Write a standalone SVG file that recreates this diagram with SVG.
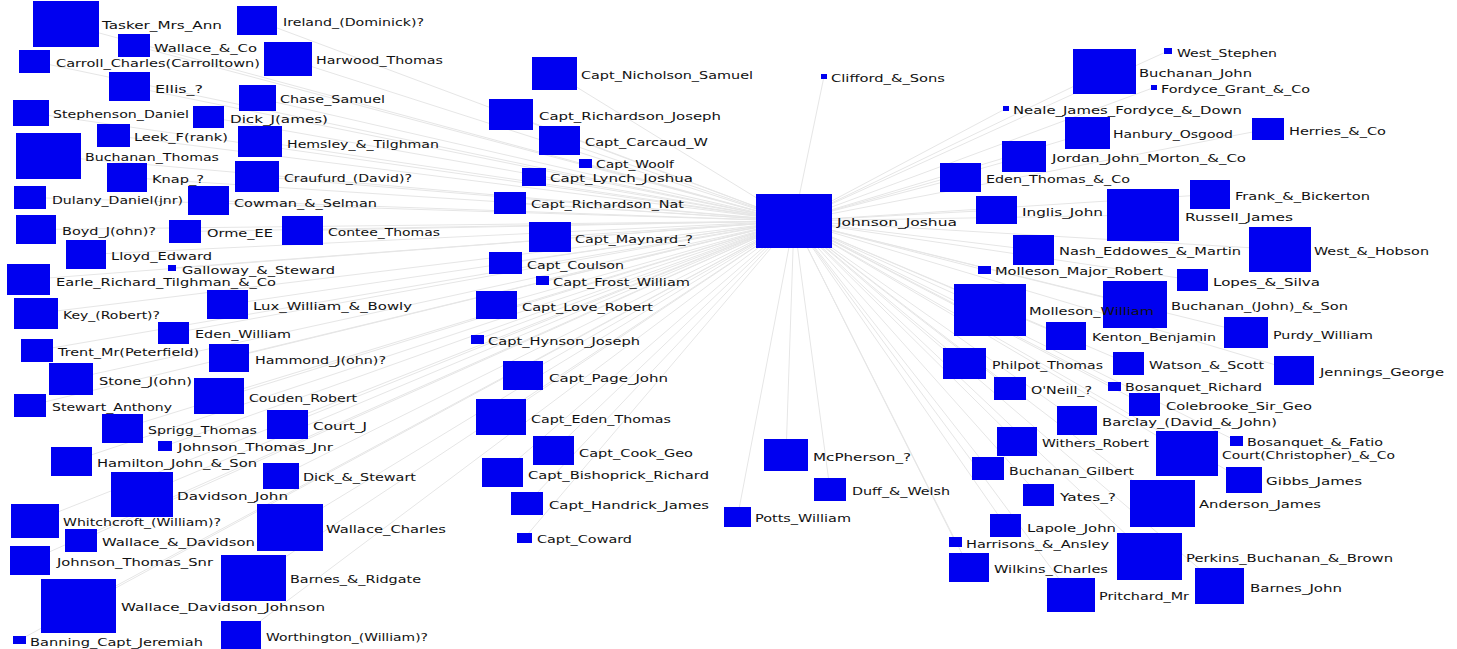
<svg xmlns="http://www.w3.org/2000/svg" width="1457" height="649" viewBox="0 0 1457 649">
<style>
.n rect{fill:#0000f0}
.n text{font-family:"DejaVu Sans","Liberation Sans",sans-serif;font-size:11px;fill:#111111}
#edges line{stroke:#e6e6e6;stroke-width:1}
</style>
<rect width="1457" height="649" fill="#ffffff"/>
<g id="edges">
<line x1="794" y1="221" x2="66" y2="24"/>
<line x1="794" y1="221" x2="257" y2="20.5"/>
<line x1="794" y1="221" x2="134" y2="45.5"/>
<line x1="794" y1="221" x2="34.5" y2="61.5"/>
<line x1="794" y1="221" x2="288" y2="59"/>
<line x1="794" y1="221" x2="129.5" y2="86.5"/>
<line x1="794" y1="221" x2="257.5" y2="98"/>
<line x1="794" y1="221" x2="31" y2="113"/>
<line x1="794" y1="221" x2="208.5" y2="117"/>
<line x1="794" y1="221" x2="113.5" y2="135.5"/>
<line x1="794" y1="221" x2="260" y2="141.5"/>
<line x1="794" y1="221" x2="48.5" y2="156"/>
<line x1="794" y1="221" x2="127" y2="177.5"/>
<line x1="794" y1="221" x2="257" y2="176.5"/>
<line x1="794" y1="221" x2="30" y2="197.5"/>
<line x1="794" y1="221" x2="208.5" y2="200.5"/>
<line x1="794" y1="221" x2="36" y2="229.5"/>
<line x1="794" y1="221" x2="185" y2="231.5"/>
<line x1="794" y1="221" x2="302.5" y2="230.5"/>
<line x1="794" y1="221" x2="86" y2="254.5"/>
<line x1="794" y1="221" x2="172" y2="268"/>
<line x1="794" y1="221" x2="28.5" y2="279.5"/>
<line x1="794" y1="221" x2="227.5" y2="304.5"/>
<line x1="794" y1="221" x2="36" y2="313.5"/>
<line x1="794" y1="221" x2="173.5" y2="333"/>
<line x1="794" y1="221" x2="37" y2="350.5"/>
<line x1="794" y1="221" x2="229" y2="358"/>
<line x1="794" y1="221" x2="71" y2="379"/>
<line x1="794" y1="221" x2="219" y2="396"/>
<line x1="794" y1="221" x2="30" y2="405.5"/>
<line x1="794" y1="221" x2="122.5" y2="428.5"/>
<line x1="794" y1="221" x2="287.5" y2="424.5"/>
<line x1="794" y1="221" x2="165" y2="446"/>
<line x1="794" y1="221" x2="71.5" y2="461.5"/>
<line x1="794" y1="221" x2="281" y2="476"/>
<line x1="794" y1="221" x2="142" y2="494.5"/>
<line x1="794" y1="221" x2="35" y2="521"/>
<line x1="794" y1="221" x2="290" y2="527.5"/>
<line x1="794" y1="221" x2="81" y2="540.5"/>
<line x1="794" y1="221" x2="30" y2="560.5"/>
<line x1="794" y1="221" x2="253.5" y2="578"/>
<line x1="794" y1="221" x2="78.5" y2="606"/>
<line x1="794" y1="221" x2="19.5" y2="640"/>
<line x1="794" y1="221" x2="241" y2="635.5"/>
<line x1="794" y1="221" x2="554.5" y2="73.5"/>
<line x1="794" y1="221" x2="824" y2="76.5"/>
<line x1="794" y1="221" x2="511" y2="114.5"/>
<line x1="794" y1="221" x2="559.5" y2="140.5"/>
<line x1="794" y1="221" x2="585.5" y2="163.5"/>
<line x1="794" y1="221" x2="534" y2="177"/>
<line x1="794" y1="221" x2="510" y2="203"/>
<line x1="794" y1="221" x2="550" y2="237"/>
<line x1="794" y1="221" x2="505.5" y2="263"/>
<line x1="794" y1="221" x2="542.5" y2="280.5"/>
<line x1="794" y1="221" x2="496.5" y2="305"/>
<line x1="794" y1="221" x2="477.5" y2="339.5"/>
<line x1="794" y1="221" x2="523" y2="375.5"/>
<line x1="794" y1="221" x2="501" y2="417"/>
<line x1="794" y1="221" x2="553.5" y2="450.5"/>
<line x1="794" y1="221" x2="502.5" y2="472.5"/>
<line x1="794" y1="221" x2="527" y2="503.5"/>
<line x1="794" y1="221" x2="524.5" y2="538"/>
<line x1="794" y1="221" x2="786" y2="455"/>
<line x1="794" y1="221" x2="830" y2="489.5"/>
<line x1="794" y1="221" x2="737.5" y2="517"/>
<line x1="794" y1="221" x2="1168" y2="51"/>
<line x1="794" y1="221" x2="1104.5" y2="71.5"/>
<line x1="794" y1="221" x2="1154" y2="87.5"/>
<line x1="794" y1="221" x2="1006" y2="108.5"/>
<line x1="794" y1="221" x2="1087.5" y2="133"/>
<line x1="794" y1="221" x2="1268" y2="129"/>
<line x1="794" y1="221" x2="1024" y2="156.5"/>
<line x1="794" y1="221" x2="960.5" y2="177.5"/>
<line x1="794" y1="221" x2="1210" y2="194.5"/>
<line x1="794" y1="221" x2="996.5" y2="210"/>
<line x1="794" y1="221" x2="1143" y2="215"/>
<line x1="794" y1="221" x2="1033.5" y2="250"/>
<line x1="794" y1="221" x2="1280" y2="249.5"/>
<line x1="794" y1="221" x2="984.5" y2="270"/>
<line x1="794" y1="221" x2="1192.5" y2="280"/>
<line x1="794" y1="221" x2="1135" y2="304.5"/>
<line x1="794" y1="221" x2="990" y2="310"/>
<line x1="794" y1="221" x2="1246" y2="332.5"/>
<line x1="794" y1="221" x2="1066" y2="336"/>
<line x1="794" y1="221" x2="964.5" y2="363.5"/>
<line x1="794" y1="221" x2="1128.5" y2="363.5"/>
<line x1="794" y1="221" x2="1294" y2="370.5"/>
<line x1="794" y1="221" x2="1010" y2="388.5"/>
<line x1="794" y1="221" x2="1114.5" y2="386.5"/>
<line x1="794" y1="221" x2="1144.5" y2="404.5"/>
<line x1="794" y1="221" x2="1077" y2="420.5"/>
<line x1="794" y1="221" x2="1017" y2="441.5"/>
<line x1="794" y1="221" x2="1187" y2="453.5"/>
<line x1="794" y1="221" x2="1236.5" y2="441"/>
<line x1="794" y1="221" x2="988" y2="468.5"/>
<line x1="794" y1="221" x2="1244" y2="480"/>
<line x1="794" y1="221" x2="1038.5" y2="495"/>
<line x1="794" y1="221" x2="1162.5" y2="503.5"/>
<line x1="794" y1="221" x2="1005.5" y2="525.5"/>
<line x1="794" y1="221" x2="955.5" y2="542"/>
<line x1="794" y1="221" x2="1149.5" y2="556.5"/>
<line x1="794" y1="221" x2="969" y2="567.5"/>
<line x1="794" y1="221" x2="1071" y2="595"/>
<line x1="794" y1="221" x2="1219.5" y2="586"/>
</g>
<g id="tasker_mrs_ann" class="n"><rect x="33" y="1" width="66" height="46"/><text x="102" y="29" textLength="120" lengthAdjust="spacingAndGlyphs">Tasker_Mrs_Ann</text></g>
<g id="ireland_dominick" class="n"><rect x="237" y="6" width="40" height="29"/><text x="283" y="26" textLength="141" lengthAdjust="spacingAndGlyphs">Ireland_(Dominick)?</text></g>
<g id="wallace_and_co" class="n"><rect x="118" y="34" width="32" height="23"/><text x="154" y="52" textLength="103" lengthAdjust="spacingAndGlyphs">Wallace_&amp;_Co</text></g>
<g id="carroll_charles" class="n"><rect x="19" y="50" width="31" height="23"/><text x="56" y="67" textLength="204" lengthAdjust="spacingAndGlyphs">Carroll_Charles(Carrolltown)</text></g>
<g id="harwood_thomas" class="n"><rect x="264" y="42" width="48" height="34"/><text x="316" y="64" textLength="127" lengthAdjust="spacingAndGlyphs">Harwood_Thomas</text></g>
<g id="ellis" class="n"><rect x="109" y="72" width="41" height="29"/><text x="155" y="93" textLength="48" lengthAdjust="spacingAndGlyphs">Ellis_?</text></g>
<g id="chase_samuel" class="n"><rect x="239" y="85" width="37" height="26"/><text x="280" y="103" textLength="105" lengthAdjust="spacingAndGlyphs">Chase_Samuel</text></g>
<g id="stephenson_daniel" class="n"><rect x="13" y="100" width="36" height="26"/><text x="53" y="118" textLength="136" lengthAdjust="spacingAndGlyphs">Stephenson_Daniel</text></g>
<g id="dick_james" class="n"><rect x="193" y="106" width="31" height="22"/><text x="230" y="123" textLength="98" lengthAdjust="spacingAndGlyphs">Dick_J(ames)</text></g>
<g id="leek_frank" class="n"><rect x="97" y="124" width="33" height="23"/><text x="134" y="141" textLength="94" lengthAdjust="spacingAndGlyphs">Leek_F(rank)</text></g>
<g id="hemsley_tilghman" class="n"><rect x="238" y="126" width="44" height="31"/><text x="287" y="148" textLength="152" lengthAdjust="spacingAndGlyphs">Hemsley_&amp;_Tilghman</text></g>
<g id="buchanan_thomas" class="n"><rect x="16" y="133" width="65" height="46"/><text x="85" y="161" textLength="134" lengthAdjust="spacingAndGlyphs">Buchanan_Thomas</text></g>
<g id="knap" class="n"><rect x="107" y="163" width="40" height="29"/><text x="152" y="183" textLength="52" lengthAdjust="spacingAndGlyphs">Knap_?</text></g>
<g id="craufurd_david" class="n"><rect x="235" y="161" width="44" height="31"/><text x="284" y="182" textLength="128" lengthAdjust="spacingAndGlyphs">Craufurd_(David)?</text></g>
<g id="dulany_daniel_jnr" class="n"><rect x="14" y="186" width="32" height="23"/><text x="52" y="204" textLength="131" lengthAdjust="spacingAndGlyphs">Dulany_Daniel(jnr)</text></g>
<g id="cowman_selman" class="n"><rect x="188" y="186" width="41" height="29"/><text x="234" y="207" textLength="143" lengthAdjust="spacingAndGlyphs">Cowman_&amp;_Selman</text></g>
<g id="boyd_john" class="n"><rect x="16" y="215" width="40" height="29"/><text x="62" y="235" textLength="94" lengthAdjust="spacingAndGlyphs">Boyd_J(ohn)?</text></g>
<g id="orme_ee" class="n"><rect x="169" y="220" width="32" height="23"/><text x="207" y="237" textLength="66" lengthAdjust="spacingAndGlyphs">Orme_EE</text></g>
<g id="contee_thomas" class="n"><rect x="282" y="216" width="41" height="29"/><text x="328" y="236" textLength="112" lengthAdjust="spacingAndGlyphs">Contee_Thomas</text></g>
<g id="lloyd_edward" class="n"><rect x="66" y="240" width="40" height="29"/><text x="111" y="260" textLength="101" lengthAdjust="spacingAndGlyphs">Lloyd_Edward</text></g>
<g id="galloway_steward" class="n"><rect x="168" y="265" width="8" height="6"/><text x="182" y="274" textLength="153" lengthAdjust="spacingAndGlyphs">Galloway_&amp;_Steward</text></g>
<g id="earle_richard" class="n"><rect x="7" y="264" width="43" height="31"/><text x="56" y="286" textLength="220" lengthAdjust="spacingAndGlyphs">Earle_Richard_Tilghman_&amp;_Co</text></g>
<g id="lux_william_bowly" class="n"><rect x="207" y="290" width="41" height="29"/><text x="253" y="310" textLength="159" lengthAdjust="spacingAndGlyphs">Lux_William_&amp;_Bowly</text></g>
<g id="key_robert" class="n"><rect x="14" y="298" width="44" height="31"/><text x="63" y="319" textLength="97" lengthAdjust="spacingAndGlyphs">Key_(Robert)?</text></g>
<g id="eden_william" class="n"><rect x="158" y="322" width="31" height="22"/><text x="195" y="338" textLength="96" lengthAdjust="spacingAndGlyphs">Eden_William</text></g>
<g id="trent_mr" class="n"><rect x="21" y="339" width="32" height="23"/><text x="58" y="356" textLength="141" lengthAdjust="spacingAndGlyphs">Trent_Mr(Peterfield)</text></g>
<g id="hammond_john" class="n"><rect x="209" y="344" width="40" height="28"/><text x="255" y="364" textLength="131" lengthAdjust="spacingAndGlyphs">Hammond_J(ohn)?</text></g>
<g id="stone_john" class="n"><rect x="49" y="363" width="44" height="32"/><text x="99" y="385" textLength="93" lengthAdjust="spacingAndGlyphs">Stone_J(ohn)</text></g>
<g id="couden_robert" class="n"><rect x="194" y="378" width="50" height="36"/><text x="249" y="402" textLength="108" lengthAdjust="spacingAndGlyphs">Couden_Robert</text></g>
<g id="stewart_anthony" class="n"><rect x="14" y="394" width="32" height="23"/><text x="52" y="411" textLength="120" lengthAdjust="spacingAndGlyphs">Stewart_Anthony</text></g>
<g id="sprigg_thomas" class="n"><rect x="102" y="414" width="41" height="29"/><text x="148" y="434" textLength="109" lengthAdjust="spacingAndGlyphs">Sprigg_Thomas</text></g>
<g id="court_j" class="n"><rect x="267" y="410" width="41" height="29"/><text x="313" y="430" textLength="54" lengthAdjust="spacingAndGlyphs">Court_J</text></g>
<g id="johnson_thomas_jnr" class="n"><rect x="158" y="441" width="14" height="10"/><text x="178" y="451" textLength="155" lengthAdjust="spacingAndGlyphs">Johnson_Thomas_Jnr</text></g>
<g id="hamilton_john_son" class="n"><rect x="51" y="447" width="41" height="29"/><text x="97" y="467" textLength="160" lengthAdjust="spacingAndGlyphs">Hamilton_John_&amp;_Son</text></g>
<g id="dick_stewart" class="n"><rect x="263" y="463" width="36" height="26"/><text x="303" y="481" textLength="113" lengthAdjust="spacingAndGlyphs">Dick_&amp;_Stewart</text></g>
<g id="davidson_john" class="n"><rect x="111" y="472" width="62" height="45"/><text x="177" y="500" textLength="111" lengthAdjust="spacingAndGlyphs">Davidson_John</text></g>
<g id="whitchcroft_william" class="n"><rect x="11" y="504" width="48" height="34"/><text x="63" y="526" textLength="158" lengthAdjust="spacingAndGlyphs">Whitchcroft_(William)?</text></g>
<g id="wallace_charles" class="n"><rect x="257" y="504" width="66" height="47"/><text x="326" y="533" textLength="120" lengthAdjust="spacingAndGlyphs">Wallace_Charles</text></g>
<g id="wallace_davidson" class="n"><rect x="65" y="529" width="32" height="23"/><text x="102" y="546" textLength="153" lengthAdjust="spacingAndGlyphs">Wallace_&amp;_Davidson</text></g>
<g id="johnson_thomas_snr" class="n"><rect x="10" y="546" width="40" height="29"/><text x="57" y="566" textLength="156" lengthAdjust="spacingAndGlyphs">Johnson_Thomas_Snr</text></g>
<g id="barnes_ridgate" class="n"><rect x="221" y="555" width="65" height="46"/><text x="290" y="583" textLength="131" lengthAdjust="spacingAndGlyphs">Barnes_&amp;_Ridgate</text></g>
<g id="wallace_davidson_johnson" class="n"><rect x="41" y="579" width="75" height="54"/><text x="121" y="611" textLength="204" lengthAdjust="spacingAndGlyphs">Wallace_Davidson_Johnson</text></g>
<g id="banning_capt_jeremiah" class="n"><rect x="13" y="636" width="13" height="8"/><text x="30" y="646" textLength="173" lengthAdjust="spacingAndGlyphs">Banning_Capt_Jeremiah</text></g>
<g id="worthington_william" class="n"><rect x="221" y="621" width="40" height="29"/><text x="266" y="641" textLength="162" lengthAdjust="spacingAndGlyphs">Worthington_(William)?</text></g>
<g id="capt_nicholson_samuel" class="n"><rect x="532" y="57" width="45" height="33"/><text x="581" y="79" textLength="172" lengthAdjust="spacingAndGlyphs">Capt_Nicholson_Samuel</text></g>
<g id="clifford_sons" class="n"><rect x="821" y="74" width="6" height="5"/><text x="831" y="82" textLength="114" lengthAdjust="spacingAndGlyphs">Clifford_&amp;_Sons</text></g>
<g id="capt_richardson_joseph" class="n"><rect x="489" y="99" width="44" height="31"/><text x="539" y="120" textLength="182" lengthAdjust="spacingAndGlyphs">Capt_Richardson_Joseph</text></g>
<g id="capt_carcaud_w" class="n"><rect x="539" y="126" width="41" height="29"/><text x="585" y="146" textLength="123" lengthAdjust="spacingAndGlyphs">Capt_Carcaud_W</text></g>
<g id="capt_woolf" class="n"><rect x="579" y="159" width="13" height="9"/><text x="596" y="168" textLength="78" lengthAdjust="spacingAndGlyphs">Capt_Woolf</text></g>
<g id="capt_lynch_joshua" class="n"><rect x="522" y="168" width="24" height="18"/><text x="550" y="182" textLength="143" lengthAdjust="spacingAndGlyphs">Capt_Lynch_Joshua</text></g>
<g id="capt_richardson_nat" class="n"><rect x="494" y="192" width="32" height="22"/><text x="531" y="208" textLength="153" lengthAdjust="spacingAndGlyphs">Capt_Richardson_Nat</text></g>
<g id="johnson_joshua" class="n"><rect x="756" y="194" width="76" height="54"/><text x="837" y="226" textLength="120" lengthAdjust="spacingAndGlyphs">Johnson_Joshua</text></g>
<g id="capt_maynard" class="n"><rect x="529" y="222" width="42" height="30"/><text x="575" y="243" textLength="118" lengthAdjust="spacingAndGlyphs">Capt_Maynard_?</text></g>
<g id="capt_coulson" class="n"><rect x="489" y="252" width="33" height="22"/><text x="527" y="269" textLength="97" lengthAdjust="spacingAndGlyphs">Capt_Coulson</text></g>
<g id="capt_frost_william" class="n"><rect x="536" y="276" width="13" height="9"/><text x="553" y="286" textLength="137" lengthAdjust="spacingAndGlyphs">Capt_Frost_William</text></g>
<g id="capt_love_robert" class="n"><rect x="476" y="291" width="41" height="28"/><text x="522" y="311" textLength="131" lengthAdjust="spacingAndGlyphs">Capt_Love_Robert</text></g>
<g id="capt_hynson_joseph" class="n"><rect x="471" y="335" width="13" height="9"/><text x="488" y="345" textLength="152" lengthAdjust="spacingAndGlyphs">Capt_Hynson_Joseph</text></g>
<g id="capt_page_john" class="n"><rect x="503" y="361" width="40" height="29"/><text x="549" y="382" textLength="119" lengthAdjust="spacingAndGlyphs">Capt_Page_John</text></g>
<g id="capt_eden_thomas" class="n"><rect x="476" y="399" width="50" height="36"/><text x="531" y="423" textLength="140" lengthAdjust="spacingAndGlyphs">Capt_Eden_Thomas</text></g>
<g id="capt_cook_geo" class="n"><rect x="533" y="436" width="41" height="29"/><text x="579" y="457" textLength="114" lengthAdjust="spacingAndGlyphs">Capt_Cook_Geo</text></g>
<g id="capt_bishoprick_richard" class="n"><rect x="482" y="458" width="41" height="29"/><text x="528" y="479" textLength="181" lengthAdjust="spacingAndGlyphs">Capt_Bishoprick_Richard</text></g>
<g id="capt_handrick_james" class="n"><rect x="511" y="492" width="32" height="23"/><text x="549" y="509" textLength="160" lengthAdjust="spacingAndGlyphs">Capt_Handrick_James</text></g>
<g id="capt_coward" class="n"><rect x="517" y="533" width="15" height="10"/><text x="537" y="543" textLength="95" lengthAdjust="spacingAndGlyphs">Capt_Coward</text></g>
<g id="mcpherson" class="n"><rect x="764" y="439" width="44" height="32"/><text x="813" y="461" textLength="98" lengthAdjust="spacingAndGlyphs">McPherson_?</text></g>
<g id="duff_welsh" class="n"><rect x="814" y="478" width="32" height="23"/><text x="852" y="495" textLength="98" lengthAdjust="spacingAndGlyphs">Duff_&amp;_Welsh</text></g>
<g id="potts_william" class="n"><rect x="724" y="507" width="27" height="20"/><text x="755" y="522" textLength="96" lengthAdjust="spacingAndGlyphs">Potts_William</text></g>
<g id="west_stephen" class="n"><rect x="1164" y="48" width="8" height="6"/><text x="1177" y="57" textLength="100" lengthAdjust="spacingAndGlyphs">West_Stephen</text></g>
<g id="buchanan_john" class="n"><rect x="1073" y="49" width="63" height="45"/><text x="1139" y="77" textLength="113" lengthAdjust="spacingAndGlyphs">Buchanan_John</text></g>
<g id="fordyce_grant_co" class="n"><rect x="1151" y="85" width="6" height="5"/><text x="1161" y="93" textLength="149" lengthAdjust="spacingAndGlyphs">Fordyce_Grant_&amp;_Co</text></g>
<g id="neale_james" class="n"><rect x="1003" y="106" width="6" height="5"/><text x="1013" y="114" textLength="229" lengthAdjust="spacingAndGlyphs">Neale_James_Fordyce_&amp;_Down</text></g>
<g id="hanbury_osgood" class="n"><rect x="1065" y="117" width="45" height="32"/><text x="1113" y="138" textLength="120" lengthAdjust="spacingAndGlyphs">Hanbury_Osgood</text></g>
<g id="herries_co" class="n"><rect x="1252" y="118" width="32" height="22"/><text x="1289" y="135" textLength="97" lengthAdjust="spacingAndGlyphs">Herries_&amp;_Co</text></g>
<g id="jordan_john_morton" class="n"><rect x="1002" y="141" width="44" height="31"/><text x="1052" y="162" textLength="194" lengthAdjust="spacingAndGlyphs">Jordan_John_Morton_&amp;_Co</text></g>
<g id="eden_thomas_co" class="n"><rect x="940" y="163" width="41" height="29"/><text x="986" y="183" textLength="144" lengthAdjust="spacingAndGlyphs">Eden_Thomas_&amp;_Co</text></g>
<g id="frank_bickerton" class="n"><rect x="1190" y="180" width="40" height="29"/><text x="1235" y="200" textLength="135" lengthAdjust="spacingAndGlyphs">Frank_&amp;_Bickerton</text></g>
<g id="inglis_john" class="n"><rect x="976" y="196" width="41" height="28"/><text x="1022" y="216" textLength="81" lengthAdjust="spacingAndGlyphs">Inglis_John</text></g>
<g id="russell_james" class="n"><rect x="1107" y="189" width="72" height="52"/><text x="1185" y="221" textLength="108" lengthAdjust="spacingAndGlyphs">Russell_James</text></g>
<g id="nash_eddowes_martin" class="n"><rect x="1013" y="235" width="41" height="30"/><text x="1059" y="255" textLength="182" lengthAdjust="spacingAndGlyphs">Nash_Eddowes_&amp;_Martin</text></g>
<g id="west_hobson" class="n"><rect x="1249" y="227" width="62" height="45"/><text x="1314" y="255" textLength="115" lengthAdjust="spacingAndGlyphs">West_&amp;_Hobson</text></g>
<g id="molleson_major_robert" class="n"><rect x="978" y="266" width="13" height="8"/><text x="995" y="275" textLength="168" lengthAdjust="spacingAndGlyphs">Molleson_Major_Robert</text></g>
<g id="lopes_silva" class="n"><rect x="1177" y="269" width="31" height="22"/><text x="1213" y="286" textLength="107" lengthAdjust="spacingAndGlyphs">Lopes_&amp;_Silva</text></g>
<g id="buchanan_john_son" class="n"><rect x="1103" y="281" width="64" height="47"/><text x="1171" y="310" textLength="177" lengthAdjust="spacingAndGlyphs">Buchanan_(John)_&amp;_Son</text></g>
<g id="molleson_william" class="n"><rect x="954" y="284" width="72" height="52"/><text x="1029" y="315" textLength="125" lengthAdjust="spacingAndGlyphs">Molleson_William</text></g>
<g id="purdy_william" class="n"><rect x="1224" y="317" width="44" height="31"/><text x="1273" y="339" textLength="100" lengthAdjust="spacingAndGlyphs">Purdy_William</text></g>
<g id="kenton_benjamin" class="n"><rect x="1046" y="322" width="40" height="28"/><text x="1092" y="341" textLength="124" lengthAdjust="spacingAndGlyphs">Kenton_Benjamin</text></g>
<g id="philpot_thomas" class="n"><rect x="943" y="348" width="43" height="31"/><text x="992" y="369" textLength="111" lengthAdjust="spacingAndGlyphs">Philpot_Thomas</text></g>
<g id="watson_scott" class="n"><rect x="1113" y="352" width="31" height="23"/><text x="1149" y="369" textLength="115" lengthAdjust="spacingAndGlyphs">Watson_&amp;_Scott</text></g>
<g id="jennings_george" class="n"><rect x="1274" y="356" width="40" height="29"/><text x="1320" y="376" textLength="124" lengthAdjust="spacingAndGlyphs">Jennings_George</text></g>
<g id="oneill" class="n"><rect x="994" y="377" width="32" height="23"/><text x="1031" y="394" textLength="61" lengthAdjust="spacingAndGlyphs">O'Neill_?</text></g>
<g id="bosanquet_richard" class="n"><rect x="1108" y="382" width="13" height="9"/><text x="1125" y="391" textLength="137" lengthAdjust="spacingAndGlyphs">Bosanquet_Richard</text></g>
<g id="colebrooke_sir_geo" class="n"><rect x="1129" y="393" width="31" height="23"/><text x="1166" y="410" textLength="146" lengthAdjust="spacingAndGlyphs">Colebrooke_Sir_Geo</text></g>
<g id="barclay_david_john" class="n"><rect x="1057" y="406" width="40" height="29"/><text x="1102" y="426" textLength="175" lengthAdjust="spacingAndGlyphs">Barclay_(David_&amp;_John)</text></g>
<g id="withers_robert" class="n"><rect x="997" y="427" width="40" height="29"/><text x="1042" y="447" textLength="107" lengthAdjust="spacingAndGlyphs">Withers_Robert</text></g>
<g id="court_christopher_co" class="n"><rect x="1156" y="431" width="62" height="45"/><text x="1222" y="459" textLength="173" lengthAdjust="spacingAndGlyphs">Court(Christopher)_&amp;_Co</text></g>
<g id="bosanquet_fatio" class="n"><rect x="1230" y="436" width="13" height="10"/><text x="1247" y="446" textLength="136" lengthAdjust="spacingAndGlyphs">Bosanquet_&amp;_Fatio</text></g>
<g id="buchanan_gilbert" class="n"><rect x="972" y="457" width="32" height="23"/><text x="1009" y="475" textLength="125" lengthAdjust="spacingAndGlyphs">Buchanan_Gilbert</text></g>
<g id="gibbs_james" class="n"><rect x="1226" y="467" width="36" height="26"/><text x="1266" y="485" textLength="96" lengthAdjust="spacingAndGlyphs">Gibbs_James</text></g>
<g id="yates" class="n"><rect x="1023" y="484" width="31" height="22"/><text x="1060" y="501" textLength="56" lengthAdjust="spacingAndGlyphs">Yates_?</text></g>
<g id="anderson_james" class="n"><rect x="1130" y="480" width="65" height="47"/><text x="1199" y="508" textLength="122" lengthAdjust="spacingAndGlyphs">Anderson_James</text></g>
<g id="lapole_john" class="n"><rect x="990" y="514" width="31" height="23"/><text x="1027" y="532" textLength="89" lengthAdjust="spacingAndGlyphs">Lapole_John</text></g>
<g id="harrisons_ansley" class="n"><rect x="949" y="537" width="13" height="10"/><text x="966" y="548" textLength="143" lengthAdjust="spacingAndGlyphs">Harrisons_&amp;_Ansley</text></g>
<g id="perkins_buchanan_brown" class="n"><rect x="1117" y="533" width="65" height="47"/><text x="1186" y="562" textLength="207" lengthAdjust="spacingAndGlyphs">Perkins_Buchanan_&amp;_Brown</text></g>
<g id="wilkins_charles" class="n"><rect x="949" y="553" width="40" height="29"/><text x="994" y="573" textLength="114" lengthAdjust="spacingAndGlyphs">Wilkins_Charles</text></g>
<g id="pritchard_mr" class="n"><rect x="1047" y="578" width="48" height="34"/><text x="1099" y="600" textLength="90" lengthAdjust="spacingAndGlyphs">Pritchard_Mr</text></g>
<g id="barnes_john" class="n"><rect x="1195" y="568" width="49" height="36"/><text x="1250" y="592" textLength="92" lengthAdjust="spacingAndGlyphs">Barnes_John</text></g>
</svg>
